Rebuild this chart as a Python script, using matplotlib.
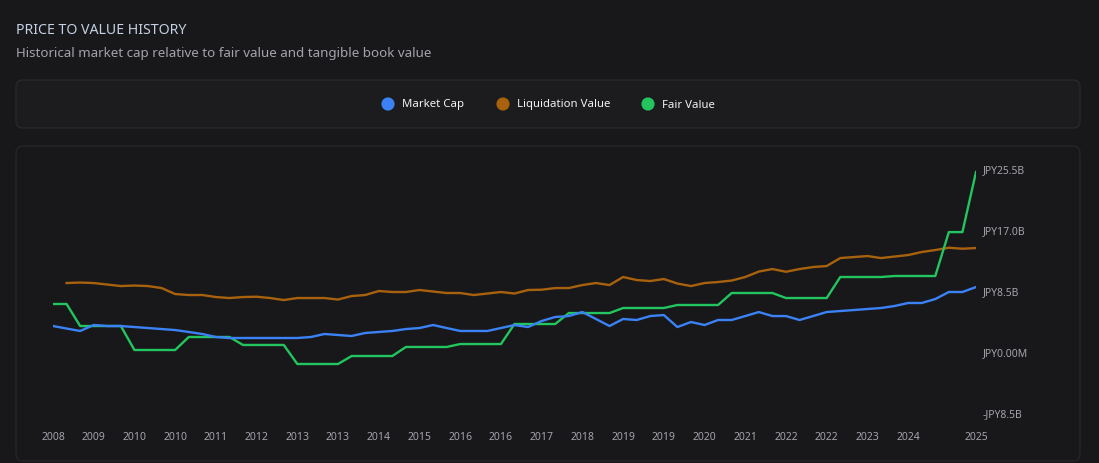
import matplotlib.pyplot as plt
from matplotlib.patches import FancyBboxPatch

plt.rcParams['font.family'] = ['Noto Sans', 'DejaVu Sans']

# values in billions of JPY, one point per quarter
market_cap = [3.48, 3.13, 2.79, 3.62, 3.48, 3.48, 3.34, 3.20, 3.06, 2.92,
              2.65, 2.37, 1.95, 1.81, 1.81, 1.81, 1.81, 1.81, 1.81, 1.95,
              2.37, 2.23, 2.09, 2.51, 2.65, 2.79, 3.06, 3.20, 3.62, 3.20,
              2.79, 2.79, 2.79, 3.20, 3.62, 3.34, 4.18, 4.74, 4.87, 5.43,
              4.46, 3.48, 4.46, 4.32, 4.87, 5.01, 3.34, 4.04, 3.62, 4.32,
              4.32, 4.87, 5.43, 4.87, 4.87, 4.32, 4.87, 5.43, 5.57, 5.71,
              5.85, 5.99, 6.27, 6.69, 6.69, 7.24, 8.22, 8.22, 8.91]
liquidation = [None, 9.47, 9.54, 9.47, 9.26, 9.05, 9.12, 9.05, 8.77, 7.94,
               7.80, 7.80, 7.52, 7.38, 7.52, 7.56, 7.38, 7.10, 7.38, 7.38,
               7.38, 7.17, 7.66, 7.80, 8.36, 8.22, 8.22, 8.50, 8.29, 8.08,
               8.08, 7.80, 8.01, 8.22, 8.01, 8.50, 8.54, 8.77, 8.77, 9.19,
               9.47, 9.19, 10.31, 9.89, 9.75, 10.03, 9.40, 9.05, 9.47, 9.61,
               9.82, 10.31, 11.07, 11.42, 11.04, 11.42, 11.70, 11.84, 12.95, 13.09,
               13.23, 12.95, 13.16, 13.37, 13.79, 14.07, 14.39, 14.25, 14.35]
fair_value = [6.55, 6.55, 3.48, 3.48, 3.48, 3.48, 0.14, 0.14, 0.14, 0.14,
              1.95, 1.95, 1.95, 1.95, 0.84, 0.84, 0.84, 0.84, -1.81, -1.81,
              -1.81, -1.81, -0.70, -0.70, -0.70, -0.70, 0.56, 0.56, 0.56, 0.56,
              0.97, 0.97, 0.97, 0.97, 3.76, 3.76, 3.76, 3.76, 5.29, 5.29,
              5.29, 5.29, 5.99, 5.99, 5.99, 5.99, 6.41, 6.41, 6.41, 6.41,
              8.08, 8.08, 8.08, 8.08, 7.38, 7.38, 7.38, 7.38, 10.31, 10.31,
              10.31, 10.31, 10.45, 10.45, 10.45, 10.45, 16.57, 16.57, 24.93]

x_ticks = list(range(0, 64, 3)) + [68]
x_labels = ['2008', '2009', '2010', '2010', '2011', '2012', '2013', '2013',
            '2014', '2015', '2016', '2016', '2017', '2018', '2019', '2019',
            '2020', '2021', '2022', '2022', '2023', '2024', '2025']
y_ticks = [-8.5, 0, 8.5, 17.0, 25.5]
y_labels = ['-JPY8.5B', 'JPY0.00M', 'JPY8.5B', 'JPY17.0B', 'JPY25.5B']

blue = '#3b82f6'
orange = '#a8610c'
green = '#22c55e'
bg = '#18181b'

W, H = 1099, 464
fig = plt.figure(figsize=(W / 100, H / 100), dpi=100, facecolor=bg)

# background layer in pixel coordinates
bgax = fig.add_axes([0, 0, 1, 1])
bgax.set_xlim(0, W)
bgax.set_ylim(H, 0)
bgax.axis('off')
bgax.add_patch(FancyBboxPatch((16, 81), 1064, 48, boxstyle='round,pad=0,rounding_size=7',
                              fc='#1c1c1f', ec='#28282c', lw=1))
bgax.add_patch(FancyBboxPatch((16, 147), 1064, 315, boxstyle='round,pad=0,rounding_size=7',
                              fc='#18181b', ec='#252529', lw=1))
bgax.text(16, 31, 'PRICE TO VALUE HISTORY', color='#c5d0e3', fontsize=10.2,
          fontweight='semibold', va='center')
bgax.text(16, 54, 'Historical market cap relative to fair value and tangible book value',
          color='#a3a3ab', fontsize=9.6, va='center')

legend_items = [(388, 'Market Cap', blue), (503, 'Liquidation Value', orange), (648, 'Fair Value', green)]
for lx, name, col in legend_items:
    bgax.scatter([lx], [105], s=90, color=col, edgecolors='none')
    bgax.text(lx + 14, 105, name, color='#f2f2f4', fontsize=8.2, fontweight='bold', va='center')

# chart axes: x 53..976 px, y -8.5 -> 413 px, 25.5 -> 169 px
ax = fig.add_axes([53 / W, (H - 413) / H, (976 - 53) / W, 244 / H])
ax.set_facecolor('none')
xs = list(range(len(market_cap)))
ax.plot(xs, liquidation, color=orange, lw=1.7)
ax.plot(xs, fair_value, color=green, lw=1.7)
ax.plot(xs, market_cap, color=blue, lw=1.7)
ax.set_xlim(0, 68)
ax.set_ylim(-8.5, 25.5)

ax.set_xticks(x_ticks)
ax.set_xticklabels(x_labels)
ax.set_yticks(y_ticks)
ax.set_yticklabels(y_labels)
ax.yaxis.tick_right()
ax.tick_params(axis='both', length=0, colors='#a3a3ab', labelsize=7.5)
ax.tick_params(axis='x', pad=14)
ax.tick_params(axis='y', pad=5)
for lab in ax.get_yticklabels():
    lab.set_horizontalalignment('left')
for s in ax.spines.values():
    s.set_visible(False)

fig.savefig('out.png', dpi=100, facecolor=bg)
